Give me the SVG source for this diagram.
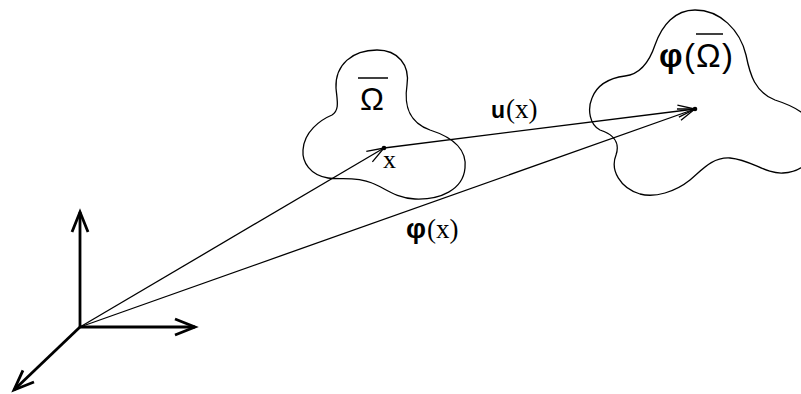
<svg xmlns="http://www.w3.org/2000/svg" width="801" height="394" viewBox="0 0 801 394">
  <style>
    .blob { fill: none; stroke: #000; stroke-width: 1.3; }
    .vec { fill: none; stroke: #000; stroke-width: 1.3; }
    .axis { fill: none; stroke: #000; stroke-width: 2.8; }
    .sans { font-family: "Liberation Sans", Arial, sans-serif; fill: #000; }
    .serif { font-family: "Liberation Serif", "Times New Roman", serif; fill: #000; }
    .bar { stroke: #000; stroke-width: 1.5; }
  </style>
  <defs>
    <marker id="arrThin" viewBox="-20 -8 22 16" markerWidth="22" markerHeight="16" refX="0" refY="0" orient="auto" markerUnits="userSpaceOnUse" overflow="visible">
      <path d="M-17,-6 L0,0 L-17,6" fill="none" stroke="#000" stroke-width="1.3"/>
    </marker>
    <marker id="arrAxis" viewBox="-24 -10 26 20" markerWidth="26" markerHeight="20" refX="0" refY="0" orient="auto" markerUnits="userSpaceOnUse" overflow="visible">
      <path d="M-20,-8 L0,0 L-20,8" fill="none" stroke="#000" stroke-width="2.8" stroke-linejoin="miter"/>
    </marker>
  </defs>
  <rect width="801" height="394" fill="#fff"/>

  <g id="axes">
    <line class="axis" x1="80" y1="327" x2="80" y2="212" marker-end="url(#arrAxis)"/>
    <line class="axis" x1="80" y1="327" x2="195" y2="327" marker-end="url(#arrAxis)"/>
    <line class="axis" x1="80" y1="327" x2="14" y2="390" marker-end="url(#arrAxis)"/>
  </g>

  <g id="omega">
    <path class="blob" d="M377,50 C398,50 410,65 407,85 C404,105 408,122 430,130 C455,138 467,150 465,168 C463,190 440,200 415,199 C395,198 385,188 372,183 C355,176 340,180 328,178 C310,175 302,162 303,150 C304,132 320,120 332,115 C340,110 337,100 336,88 C335,65 352,50 377,50 Z"/>
    <text class="sans" x="360" y="110" font-size="32">Ω</text>
    <line class="bar" x1="358" y1="78" x2="388" y2="78"/>
  </g>

  <g id="phi-omega">
    <path class="blob" d="M695,10 C720,10 740,30 746,55 C750,75 755,92 775,100 C800,108 815,118 815,140 C815,162 800,172 783,173 C765,174 752,160 730,158 C712,157 702,170 690,180 C675,192 655,198 640,194 C620,188 610,170 616,155 C620,143 615,135 600,130 C590,125 587,110 592,98 C597,85 610,78 625,76 C642,74 650,60 655,45 C662,25 675,10 695,10 Z"/>
    <text class="sans" y="67" font-size="33"><tspan x="659" font-weight="bold">φ</tspan><tspan x="684">(</tspan><tspan x="696">Ω</tspan><tspan x="722">)</tspan></text>
    <line class="bar" x1="696" y1="34" x2="723" y2="34"/>
  </g>

  <g id="point-x">
    <circle cx="384" cy="148" r="2.3" fill="#000"/>
    <text class="serif" x="383" y="168" font-size="26">x</text>
  </g>

  <g id="point-phi-x">
    <circle cx="695" cy="109" r="2.3" fill="#000"/>
  </g>

  <g id="connectors">
    <line class="vec" x1="80" y1="327" x2="384" y2="148" marker-end="url(#arrThin)"/>
    <line class="vec" x1="384" y1="148" x2="695" y2="109" marker-end="url(#arrThin)"/>
    <line class="vec" x1="80" y1="327" x2="695" y2="109" marker-end="url(#arrThin)"/>
    <text y="118"><tspan class="sans" x="491" font-size="23" font-weight="bold">u</tspan><tspan class="serif" x="506" font-size="27">(x)</tspan></text>
    <text y="238"><tspan class="sans" x="406" font-size="28" font-weight="bold">φ</tspan><tspan class="serif" x="427" font-size="27">(x)</tspan></text>
  </g>
</svg>
